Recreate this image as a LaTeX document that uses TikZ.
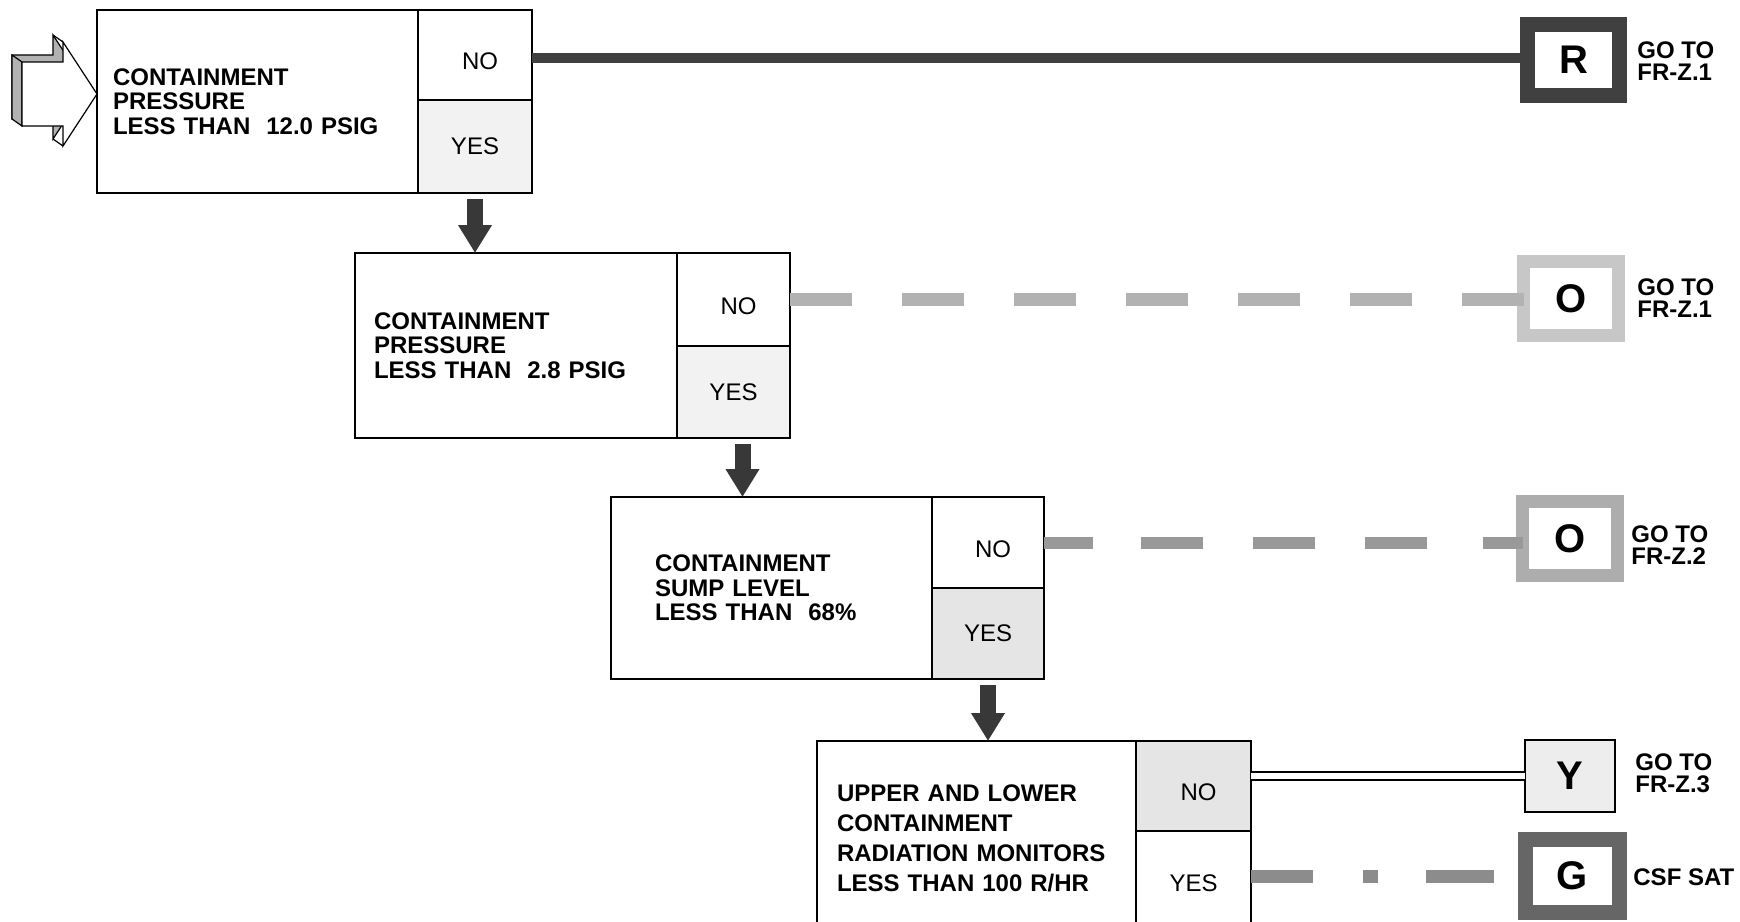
\documentclass[tikz,border=0pt]{standalone}
\usepackage{fontspec}
\setmainfont{Liberation Sans}
\usetikzlibrary{arrows.meta}
\newcommand{\nolab}{\raisebox{-7.3pt}[0pt][0pt]{\hspace*{5pt}NO}}

\tikzset{
	qbox/.style={draw, line width=0.9pt, outer sep=0pt, anchor=north west, align=left, inner ysep=0pt,
		font=\fontsize{12}{12.3}\selectfont\bfseries},
	cell/.style={draw, line width=0.9pt, outer sep=0pt, anchor=north west, inner sep=0pt,
		font=\fontsize{12}{12}\selectfont},
	gobox/.style={draw, outer sep=0pt, inner sep=0pt, font=\fontsize{20}{20}\selectfont\bfseries},
	golabel/.style={anchor=west, align=left, inner sep=0pt, font=\fontsize{12}{11}\selectfont\bfseries},
	downarrow/.style={line width=8pt, draw=black!78, -{Triangle[width=16pt,length=14pt]}}
}

\begin{document}
\begin{tikzpicture}[x=0.5pt,y=-0.5pt]
			%%%%% START %%%%%
			\useasboundingbox (0,0) rectangle (1740,921);
			\clip (0,0) rectangle (1740,921);
			
			% entry arrow, back face and front face
			\filldraw[fill=black!30, line width=0.6pt] (12,55) -- (53,55) -- (53,35) -- (87,87) -- (53,139) -- (53,119) -- (12,119) -- cycle;
			\filldraw[fill=black!30, line width=0.6pt] (12,55) -- (22,62) -- (22,126) -- (12,119) -- cycle;
			\draw[line width=0.6pt] (53,35) -- (63,42) (53,139) -- (63,146);
			\filldraw[fill=white, line width=0.6pt] (22,62) -- (63,62) -- (63,42) -- (97,94) -- (63,146) -- (63,126) -- (22,126) -- cycle;
			
			% first question
			\node[qbox, inner xsep=8pt, text width=144.5pt, minimum height=91.5pt] (q1) at (97,10) {CONTAINMENT\\PRESSURE\\LESS THAN~~12.0 PSIG};
			\node[cell, minimum width=57pt, minimum height=45pt] (no1) at (q1.north east) {\nolab};
			\node[cell, fill=black!5, minimum width=57pt, minimum height=46.5pt] (yes1) at (no1.south west) {YES};
			
			% second question
			\node[qbox, inner xsep=9.5pt, text width=142pt, minimum height=92.5pt] (q2) at (355,253) {CONTAINMENT\\PRESSURE\\LESS THAN~~2.8 PSIG};
			\node[cell, minimum width=56.5pt, minimum height=46.5pt] (no2) at (q2.north east) {\nolab};
			\node[cell, fill=black!5, minimum width=56.5pt, minimum height=46pt] (yes2) at (no2.south west) {YES};
			
			% third question
			\node[qbox, inner xsep=22pt, text width=116.5pt, minimum height=91pt] (q3) at (611,497) {CONTAINMENT\\SUMP LEVEL\\LESS THAN~~68\%};
			\node[cell, minimum width=56pt, minimum height=45.5pt] (no3) at (q3.north east) {\nolab};
			\node[cell, fill=black!10, minimum width=56pt, minimum height=45.5pt] (yes3) at (no3.south west) {YES};
			
			% fourth question
			\node[qbox, inner xsep=10pt, text width=139.5pt, minimum height=97pt, font=\fontsize{12}{15}\selectfont\bfseries] (q4) at (817,741) {UPPER AND LOWER\\CONTAINMENT\\RADIATION MONITORS\\LESS THAN 100 R/HR};
			\node[cell, fill=black!10, minimum width=57.5pt, minimum height=45pt] (no4) at (q4.north east) {\nolab};
			\node[cell, minimum width=57.5pt, minimum height=52pt] (yes4) at (no4.south west) {YES};
			
			% status boxes
			\node[gobox, line width=7.5pt, draw=black!75, minimum width=46pt, minimum height=35.5pt] (rbox) at (1573.5,60) {R};
			\node[gobox, line width=6.5pt, draw=black!22, minimum width=47.5pt, minimum height=37pt] (obox1) at (1571,298.5) {O};
			\node[gobox, line width=6.5pt, draw=black!32, minimum width=47.5pt, minimum height=37pt] (obox2) at (1570,538.5) {O};
			\node[gobox, line width=1.2pt, fill=black!7, minimum width=45pt, minimum height=36pt] (ybox) at (1570,776) {Y};
			\node[gobox, line width=7.5pt, draw=black!60, minimum width=47pt, minimum height=36.5pt] (gbox) at (1572.5,876) {G};
			
			\node[golabel] (rlab) at (1637,61) {GO TO\\FR-Z.1};
			\node[golabel] (olab1) at (1637,298.5) {GO TO\\FR-Z.1};
			\node[golabel] (olab2) at (1631,545) {GO TO\\FR-Z.2};
			\node[golabel] (ylab) at (1635,773.5) {GO TO\\FR-Z.3};
			\node[golabel] (glab) at (1633,877) {CSF SAT};
			
			% yes branches
			\draw[downarrow] ([yshift=-3pt]yes1.south) -- (yes1.south |- q2.north);
			\draw[downarrow] ([xshift=4.5pt,yshift=-3pt]yes2.south) -- ([xshift=4.5pt]yes2.south |- q3.north);
			\draw[downarrow] ([yshift=-3pt]yes3.south) -- (yes3.south |- q4.north);
			
			% no branches
			\draw[line width=5pt, black!75] ([yshift=-1.5pt]no1.east) -- ([yshift=-1.5pt]no1.east -| rbox.west);
			\draw[line width=6.5pt, black!30, dash pattern=on 31pt off 25pt] (no2.east) -- (no2.east -| obox1.west);
			\draw[line width=6pt, black!40, dash pattern=on 24.5pt off 24pt on 31pt off 25pt on 31pt off 25pt on 31pt off 28pt on 31pt off 25pt] (no3.east) -- (no3.east -| obox2.west);
			\draw[double, double distance=2.8pt, line width=1.2pt] (no4.east |- ybox.west) -- (ybox.west);
			\draw[line width=6.5pt, black!45, dash pattern=on 31pt off 25pt on 7.5pt off 24pt on 34pt off 20pt] (yes4.east |- gbox.west) -- (gbox.west);
			%%%%% END %%%%%
\end{tikzpicture}
\end{document}
